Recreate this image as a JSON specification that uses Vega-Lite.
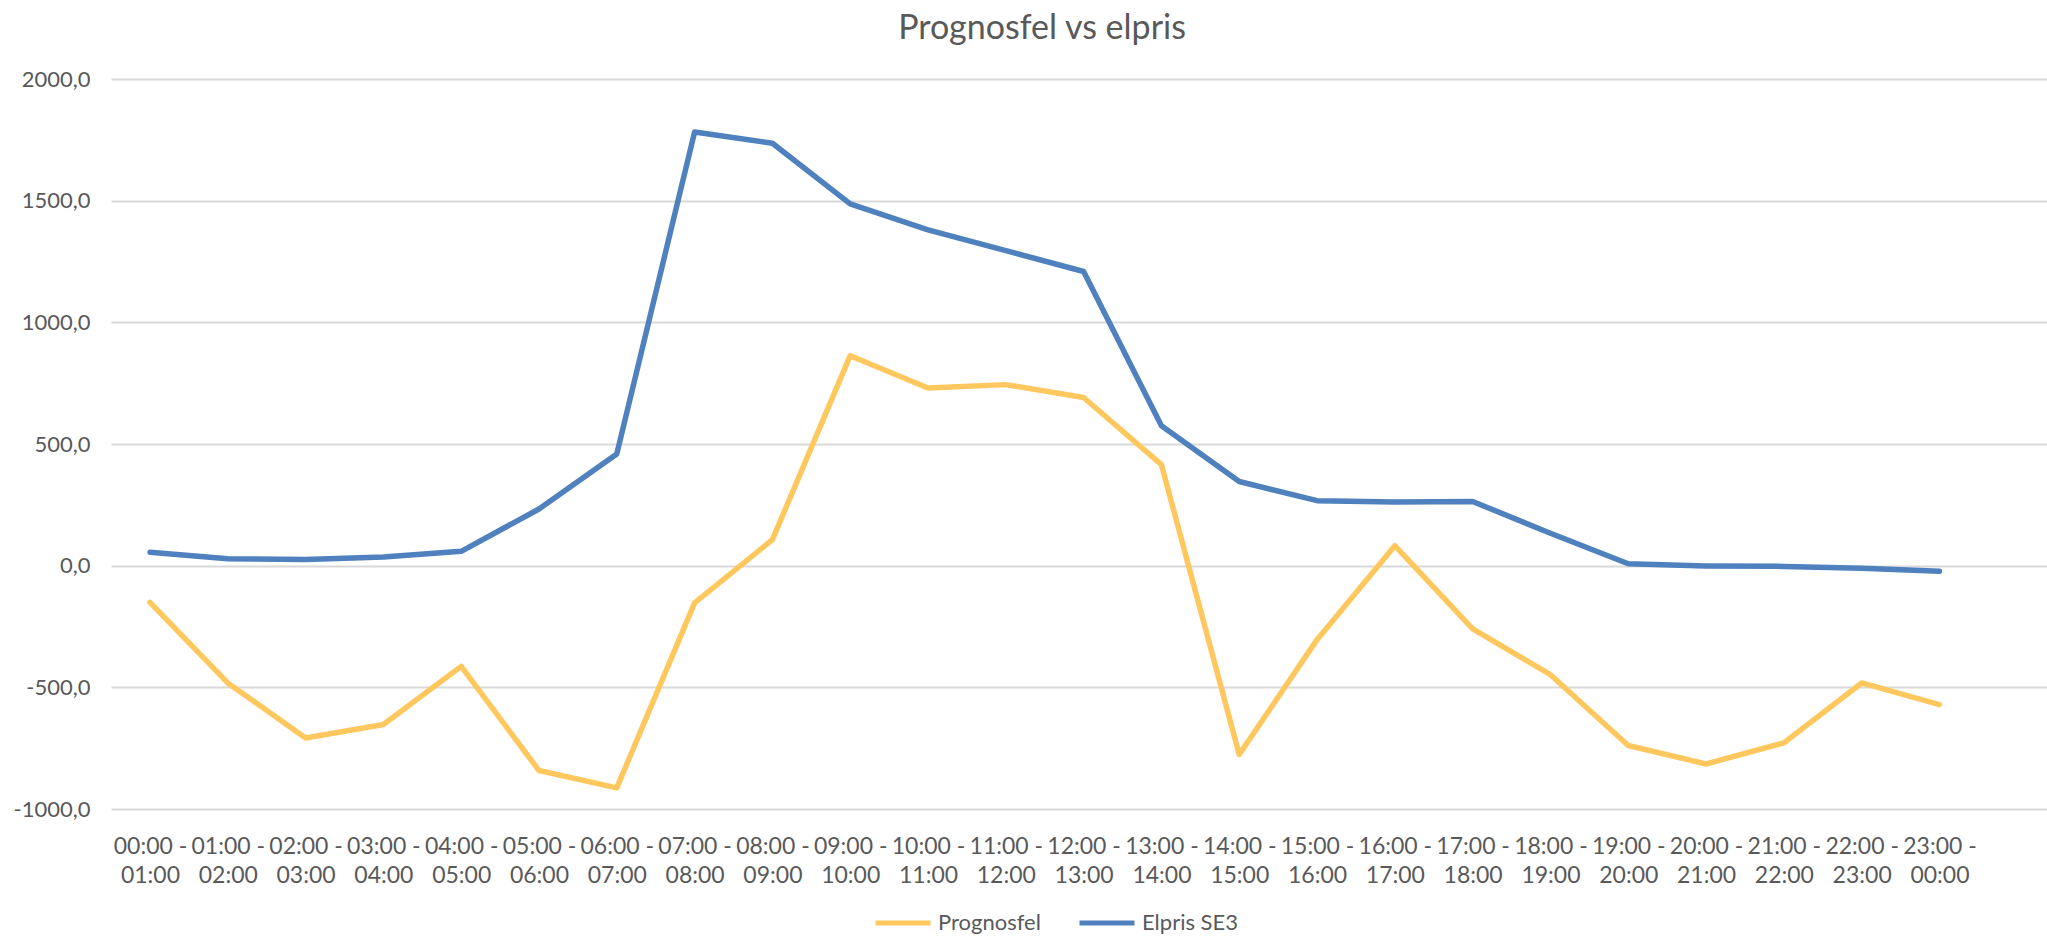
{
  "$schema": "https://vega.github.io/schema/vega-lite/v6.json",
  "width": 1936,
  "height": 730,
  "autosize": {"type": "none"},
  "padding": {"left": 111, "top": 79, "right": 0, "bottom": 128},
  "background": "white",
  "title": {"text": "Prognosfel vs elpris", "frame": "group", "anchor": "middle", "dx": -37, "offset": 22, "fontSize": 34, "font": "Lato", "fontWeight": "normal", "color": "#595959"},
  "data": {"values": [
    {"tid": "00:00 - 01:00", "serie": "Prognosfel", "varde": -151},
    {"tid": "01:00 - 02:00", "serie": "Prognosfel", "varde": -482},
    {"tid": "02:00 - 03:00", "serie": "Prognosfel", "varde": -708},
    {"tid": "03:00 - 04:00", "serie": "Prognosfel", "varde": -653},
    {"tid": "04:00 - 05:00", "serie": "Prognosfel", "varde": -414},
    {"tid": "05:00 - 06:00", "serie": "Prognosfel", "varde": -842},
    {"tid": "06:00 - 07:00", "serie": "Prognosfel", "varde": -913},
    {"tid": "07:00 - 08:00", "serie": "Prognosfel", "varde": -153},
    {"tid": "08:00 - 09:00", "serie": "Prognosfel", "varde": 107},
    {"tid": "09:00 - 10:00", "serie": "Prognosfel", "varde": 863},
    {"tid": "10:00 - 11:00", "serie": "Prognosfel", "varde": 730},
    {"tid": "11:00 - 12:00", "serie": "Prognosfel", "varde": 744},
    {"tid": "12:00 - 13:00", "serie": "Prognosfel", "varde": 691},
    {"tid": "13:00 - 14:00", "serie": "Prognosfel", "varde": 415},
    {"tid": "14:00 - 15:00", "serie": "Prognosfel", "varde": -776},
    {"tid": "15:00 - 16:00", "serie": "Prognosfel", "varde": -304},
    {"tid": "16:00 - 17:00", "serie": "Prognosfel", "varde": 82},
    {"tid": "17:00 - 18:00", "serie": "Prognosfel", "varde": -260},
    {"tid": "18:00 - 19:00", "serie": "Prognosfel", "varde": -448},
    {"tid": "19:00 - 20:00", "serie": "Prognosfel", "varde": -739},
    {"tid": "20:00 - 21:00", "serie": "Prognosfel", "varde": -815},
    {"tid": "21:00 - 22:00", "serie": "Prognosfel", "varde": -728},
    {"tid": "22:00 - 23:00", "serie": "Prognosfel", "varde": -482},
    {"tid": "23:00 - 00:00", "serie": "Prognosfel", "varde": -571},
    {"tid": "00:00 - 01:00", "serie": "Elpris SE3", "varde": 55},
    {"tid": "01:00 - 02:00", "serie": "Elpris SE3", "varde": 28},
    {"tid": "02:00 - 03:00", "serie": "Elpris SE3", "varde": 25},
    {"tid": "03:00 - 04:00", "serie": "Elpris SE3", "varde": 36},
    {"tid": "04:00 - 05:00", "serie": "Elpris SE3", "varde": 59},
    {"tid": "05:00 - 06:00", "serie": "Elpris SE3", "varde": 233},
    {"tid": "06:00 - 07:00", "serie": "Elpris SE3", "varde": 459},
    {"tid": "07:00 - 08:00", "serie": "Elpris SE3", "varde": 1782},
    {"tid": "08:00 - 09:00", "serie": "Elpris SE3", "varde": 1736},
    {"tid": "09:00 - 10:00", "serie": "Elpris SE3", "varde": 1487},
    {"tid": "10:00 - 11:00", "serie": "Elpris SE3", "varde": 1380},
    {"tid": "11:00 - 12:00", "serie": "Elpris SE3", "varde": 1295},
    {"tid": "12:00 - 13:00", "serie": "Elpris SE3", "varde": 1209},
    {"tid": "13:00 - 14:00", "serie": "Elpris SE3", "varde": 575},
    {"tid": "14:00 - 15:00", "serie": "Elpris SE3", "varde": 346},
    {"tid": "15:00 - 16:00", "serie": "Elpris SE3", "varde": 267},
    {"tid": "16:00 - 17:00", "serie": "Elpris SE3", "varde": 262},
    {"tid": "17:00 - 18:00", "serie": "Elpris SE3", "varde": 264},
    {"tid": "18:00 - 19:00", "serie": "Elpris SE3", "varde": 133},
    {"tid": "19:00 - 20:00", "serie": "Elpris SE3", "varde": 8},
    {"tid": "20:00 - 21:00", "serie": "Elpris SE3", "varde": -1},
    {"tid": "21:00 - 22:00", "serie": "Elpris SE3", "varde": -3},
    {"tid": "22:00 - 23:00", "serie": "Elpris SE3", "varde": -11},
    {"tid": "23:00 - 00:00", "serie": "Elpris SE3", "varde": -23}
  ]},
  "mark": {"type": "line", "strokeWidth": 5.5, "strokeJoin": "round", "strokeCap": "round"},
  "encoding": {
    "x": {
      "field": "tid", "type": "ordinal", "sort": null,
      "scale": {"type": "point", "padding": 0.9415, "align": 0.266},
      "axis": {"title": null, "labelAngle": 0, "labelExpr": "[slice(datum.value, 0, 7), slice(datum.value, 8)]", "domain": false, "ticks": false, "grid": false, "labelPadding": 26, "labelFont": "Lato", "labelFontSize": 23, "labelColor": "#595959", "labelLineHeight": 29, "labelBaseline": "top", "labelOverlap": false}
    },
    "y": {
      "field": "varde", "type": "quantitative",
      "scale": {"domain": [-1000, 2000], "nice": false, "zero": false},
      "axis": {"title": null, "values": [-1000, -500, 0, 500, 1000, 1500, 2000], "labelExpr": "(datum.value < 0 ? '-' : '') + replace(format(abs(datum.value), '.1f'), '.', ',')", "domain": false, "ticks": false, "labelPadding": 21, "labelFont": "Lato", "labelFontSize": 22, "labelColor": "#595959", "gridColor": "#D9D9D9", "gridWidth": 1.8}
    },
    "color": {
      "field": "serie", "type": "nominal",
      "scale": {"domain": ["Prognosfel", "Elpris SE3"], "range": ["#FFC85F", "#4E81BD"]},
      "legend": {"orient": "none", "legendX": 762, "legendY": 814, "direction": "horizontal", "title": null, "symbolType": "stroke", "symbolSize": 3025, "symbolStrokeWidth": 5, "labelFont": "Lato", "labelFontSize": 22, "labelColor": "#595959", "labelOffset": 5, "columnPadding": 28, "padding": 0}
    }
  },
  "config": {"view": {"stroke": null}}
}
